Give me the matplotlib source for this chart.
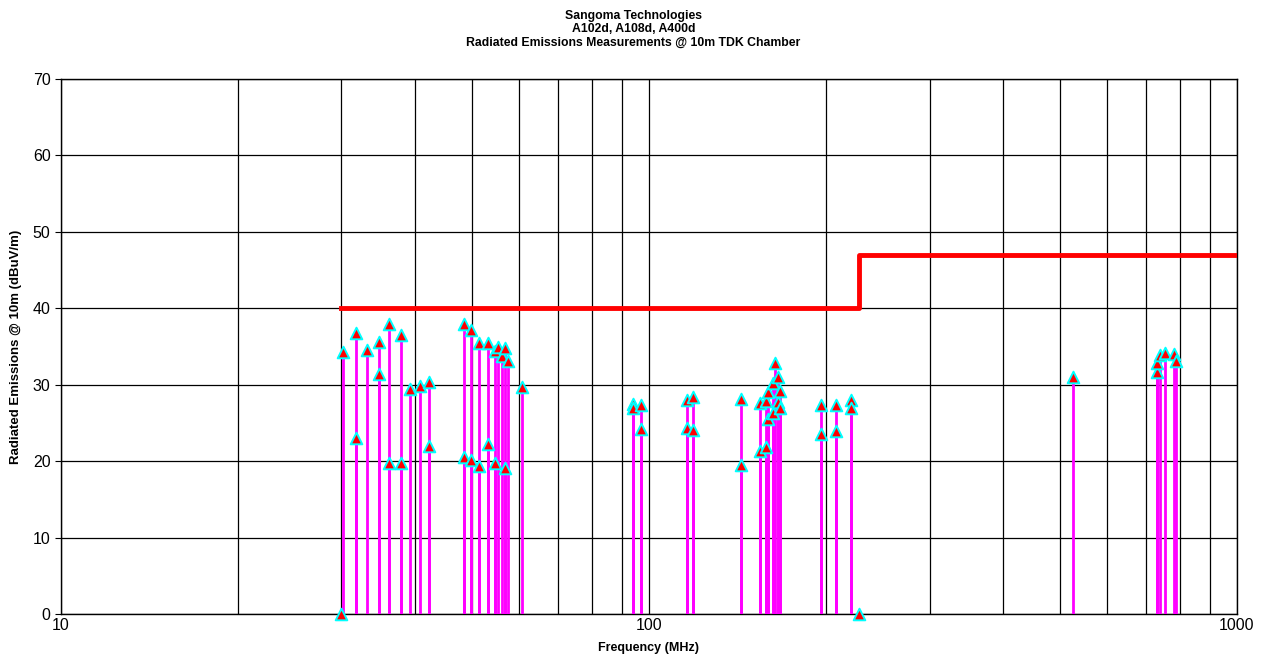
#!/usr/bin/env python3
import numpy as np
import matplotlib
matplotlib.use("Agg")
import matplotlib.pyplot as plt
from matplotlib.ticker import FixedLocator, NullFormatter

# measured emissions (MHz, dBuV/m)
freq_mhz = [30.0, 30.2, 31.7, 31.7, 33.2, 34.7, 34.7, 36.2, 36.2, 37.8, 37.8,
            39.3, 40.8, 42.3, 42.3,
            48.5, 48.5, 49.9, 49.9, 51.5, 51.5, 53.2, 53.2, 54.7, 54.7,
            55.4, 56.2, 56.9, 56.9, 57.6, 60.9,
            94.0, 94.0, 96.8, 96.8, 115.9, 115.9, 118.7, 118.7,
            143.4, 143.4, 154.5, 154.5, 158.0, 158.0, 159.4, 159.4,
            162.7, 162.7, 164.1, 165.5, 165.5, 167.1, 167.1,
            196.1, 196.1, 208.0, 208.0, 220.6, 220.6, 228.0,
            526.8, 730.0, 730.0, 739.6, 755.0, 781.0, 789.0]
level_dbuv = [0.0, 34.3, 36.8, 23.0, 34.6, 35.6, 31.4, 38.0, 19.8, 36.5, 19.7,
              29.4, 29.8, 30.3, 22.0,
              37.9, 20.6, 37.2, 20.1, 35.5, 19.4, 35.5, 22.2, 34.4, 19.8,
              34.9, 33.8, 34.8, 19.1, 33.1, 29.7,
              27.5, 27.0, 27.4, 24.2, 28.0, 24.3, 28.4, 24.1,
              28.1, 19.5, 27.6, 21.3, 27.9, 21.9, 29.0, 25.5,
              30.2, 26.3, 32.9, 31.0, 27.8, 29.2, 27.0,
              27.3, 23.6, 27.3, 24.0, 28.0, 27.0, 0.0,
              31.0, 31.7, 32.9, 33.9, 34.1, 34.0, 33.1]

# class limit line
limit_freq = [30, 228, 228, 1000]
limit_level = [40, 40, 47, 47]

title_lines = ['Sangoma Technologies', 'A102d, A108d, A400d',
               'Radiated Emissions Measurements @ 10m TDK Chamber']

plt.rcParams['font.family'] = ['Liberation Sans', 'DejaVu Sans']

fig = plt.figure(figsize=(12.67, 6.61), dpi=100)
ax = fig.add_axes([0.0481, 0.0711, 0.9282, 0.8094])

ax.set_xscale('log')
ax.set_xlim(10, 1000)
ax.set_ylim(0, 70)

ax.xaxis.set_major_locator(FixedLocator([10, 100, 1000]))
ax.xaxis.set_minor_locator(FixedLocator([m * 10 ** d for d in (1, 2) for m in range(2, 10)]))
ax.xaxis.set_major_formatter(plt.FuncFormatter(lambda v, p: "%d" % v))
ax.xaxis.set_minor_formatter(NullFormatter())
ax.set_yticks(np.arange(0, 71, 10))

ax.grid(True, which='both', axis='x', color='black', lw=0.9)
ax.grid(True, which='major', axis='y', color='black', lw=0.9)
ax.set_axisbelow(True)

f = np.array(freq_mhz); lv = np.array(level_dbuv)
ax.vlines(f, 0, lv, color='#ff00ff', lw=2, zorder=3)
ax.step(limit_freq, limit_level, where='post', color='#ff0000', lw=3.5, zorder=4)
ax.scatter(f, lv, marker='^', s=70, facecolor='#ff0000', edgecolor='#00ffff',
           linewidths=1.4, zorder=5, clip_on=False)

for s in ax.spines.values():
    s.set_color('black'); s.set_linewidth(1)
ax.tick_params(axis='both', which='major', labelsize=11.5, length=4, direction='out')
ax.tick_params(axis='x', which='minor', length=0)
ax.tick_params(axis='x', which='major', length=0, pad=3)

ax.set_xlabel('Frequency (MHz)', fontsize=9, fontweight='bold', va='center')
ax.xaxis.set_label_coords(0.5, -0.0636)
ax.set_ylabel('Radiated Emissions @ 10m (dBuV/m)', fontsize=9.5, fontweight='bold', va='center')
ax.yaxis.set_label_coords(-0.038, 0.5)

for txt, yp in zip(title_lines, [0.9758, 0.9561, 0.935]):
    fig.text(0.5, yp, txt, ha='center', va='center', fontsize=8.8, fontweight='bold')

fig.savefig('out.png', dpi=100)
plt.close(fig)
